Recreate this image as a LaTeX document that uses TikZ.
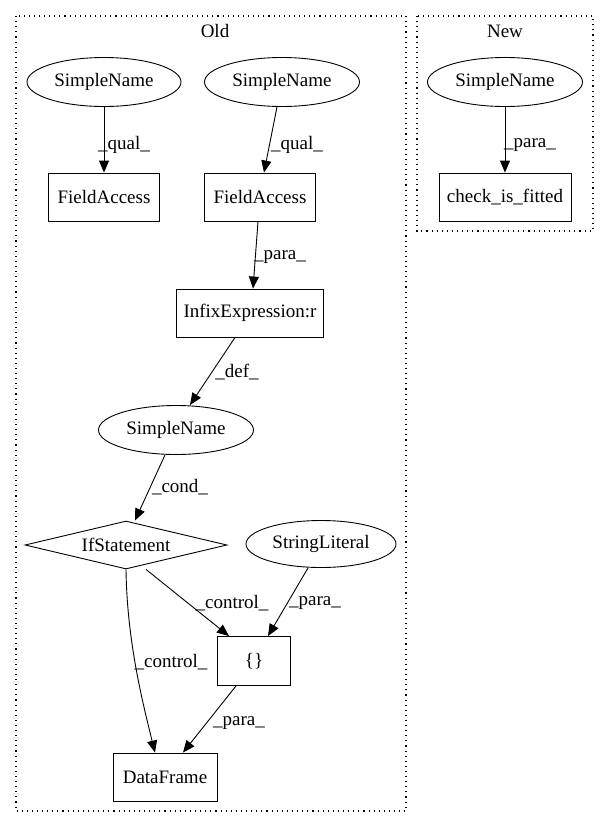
\documentclass[tikz,border=0pt]{standalone}
\usepackage{fontspec}
\setmainfont{Liberation Serif}
\usetikzlibrary{shapes.geometric,arrows.meta}
\begin{document}
\begin{tikzpicture}[x=1pt,y=-1pt,
  every node/.style={font=\fontsize{19}{23}\selectfont, inner sep=0pt},
  ell/.style={draw, ellipse, line width=0.9pt, minimum height=49pt},
  box/.style={draw, rectangle, line width=0.9pt, minimum height=48pt},
  dia/.style={draw, diamond, aspect=4.2, line width=0.9pt, minimum width=202pt, minimum height=48pt},
  edge/.style={line width=0.9pt, -{Triangle[length=12pt,width=10pt]}},
  cluster/.style={line width=1.1pt, dash pattern=on 1.1pt off 4pt},
  lbl/.style={}]
\useasboundingbox (0,0) rectangle (609,828);
% clusters
\draw[cluster] (16,16) rectangle (406,811);
\draw[cluster] (417,16) rectangle (593,231);
\node (oldt) at (215,31) {Old};
\node (newt) at (505,31) {New};
% Old nodes
\node[ell, minimum width=154pt] (sn1) at (104,82) {SimpleName};
\node[ell, minimum width=155pt] (sn2) at (282,82) {SimpleName};
\node[box, minimum width=111pt] (fa1) at (104,197) {FieldAccess};
\node[box, minimum width=111pt] (fa2) at (260,197) {FieldAccess};
\node[box, minimum width=147pt] (infix) at (250,313) {InfixExpression:r};
\node[ell, minimum width=155pt] (sn3) at (176,430) {SimpleName};
\node[dia] (ifs) at (126,545) {IfStatement};
\node[ell, minimum width=150pt, minimum height=47pt] (strl) at (321,544) {StringLiteral};
\node[box, minimum width=73pt, minimum height=49pt] (arr) at (254,661) {\{\}};
\node[box, minimum width=104pt] (df) at (165,777) {DataFrame};
% New nodes
\node[ell, minimum width=155pt] (sn4) at (505,82) {SimpleName};
\node[box, minimum width=132pt] (cif) at (505,197) {check\_is\_fitted};
% edges
\draw[edge] (sn1) -- (fa1) node[lbl] (l1) at (124,145) {\_qual\_};
\draw[edge] ([xshift=-5pt]sn2.south) -- ([xshift=4pt]fa2.north) node[lbl] (l2) at (297,145) {\_qual\_};
\draw[edge] ([xshift=-2pt]fa2.south) -- ([xshift=3pt]infix.north) node[lbl] (l3) at (280,257) {\_para\_};
\draw[edge] ([xshift=-15pt]infix.south) -- ([xshift=14pt]sn3.south |- 0,405) node[lbl] (l4) at (237,372) {\_def\_};
\draw[edge] ([xshift=-11pt]sn3.south) -- ([xshift=9pt]ifs.north) node[lbl] (l5) at (180,487) {\_cond\_};
\draw[edge] ([xshift=20pt]ifs.south) -- ([xshift=-25pt]arr.north) node[lbl] (l6) at (232,603) {\_control\_};
\draw[edge] ([xshift=-13pt]strl.south) -- ([xshift=14pt]arr.north) node[lbl] (l7) at (315,603) {\_para\_};
\draw[edge] (ifs.south) .. controls (127,640) and (142,700) .. ([xshift=-10pt]df.north) node[lbl] (l8) at (171,662) {\_control\_};
\draw[edge] ([xshift=-18pt]arr.south) -- ([xshift=18pt]df.north) node[lbl] (l9) at (239,723) {\_para\_};
\draw[edge] (sn4) -- (cif) node[lbl] (l10) at (530,145) {\_para\_};
\end{tikzpicture}
\end{document}
